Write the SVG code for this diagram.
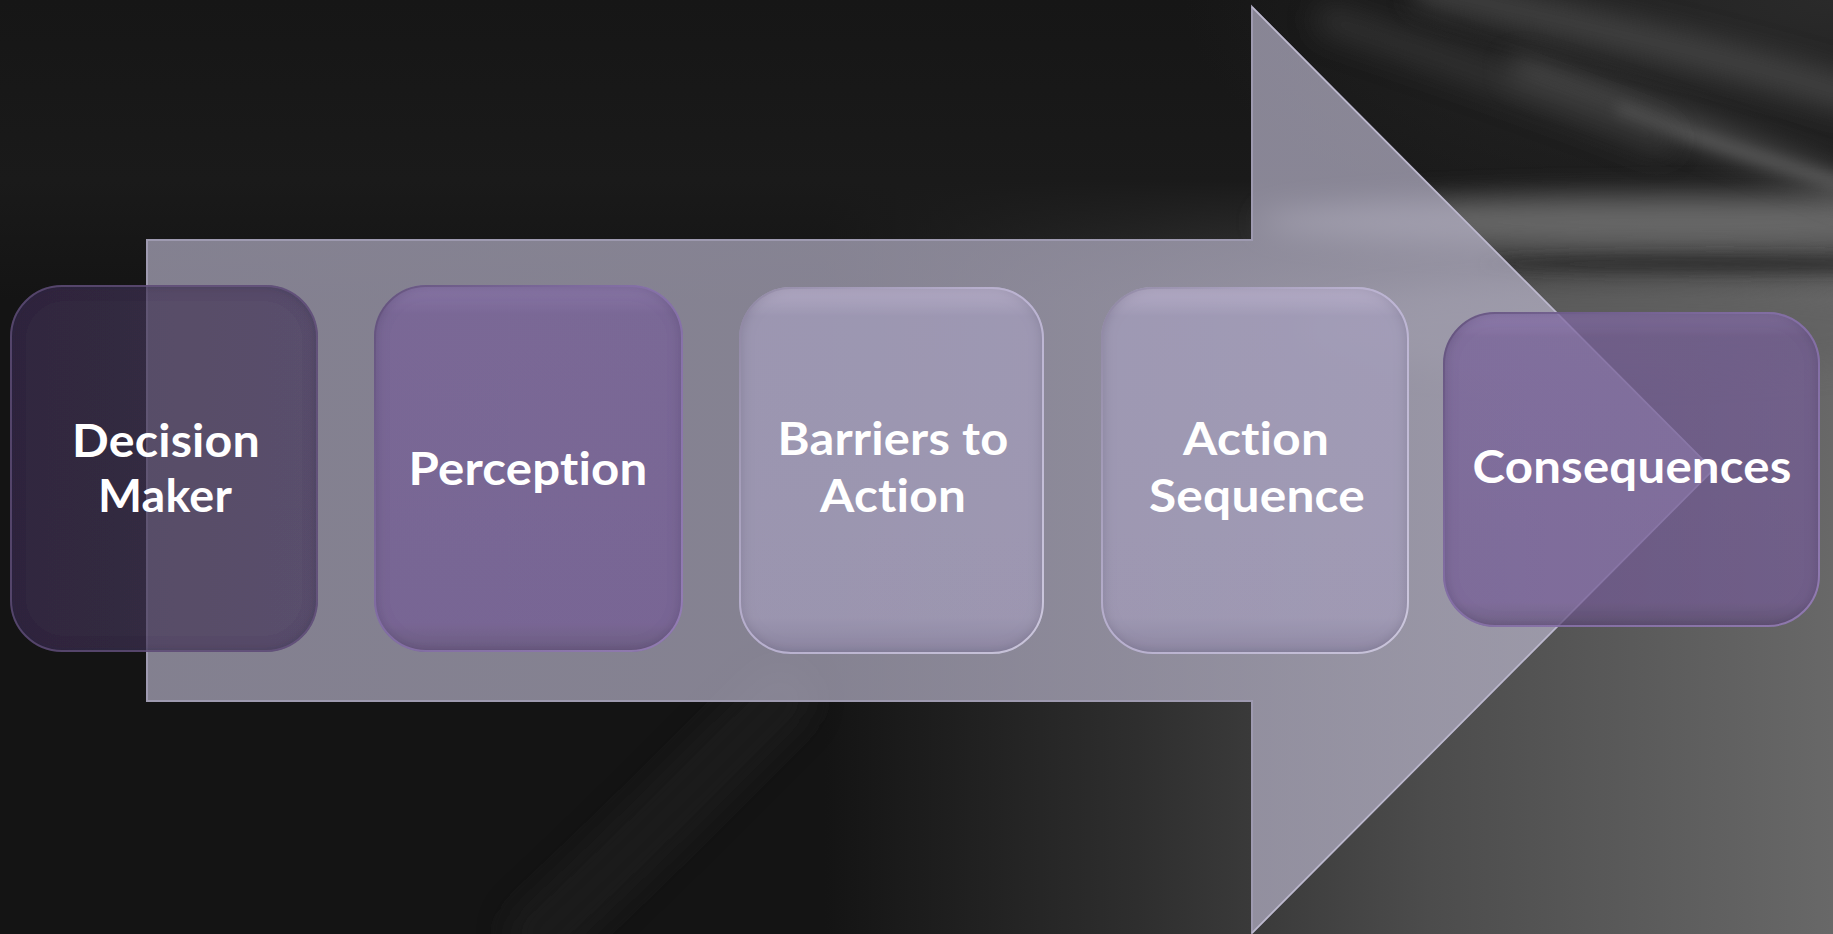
<svg xmlns="http://www.w3.org/2000/svg" width="1833" height="934" viewBox="0 0 1833 934">
  <defs>
    <style>
      .lbl { font-family: "Lato", "Open Sans", "Liberation Sans", sans-serif; font-weight: 700; font-size: 46px; fill: #ffffff; text-anchor: middle; font-variant-ligatures: none; font-feature-settings: "liga" 0, "clig" 0; letter-spacing: 0.2px; }
      .box { filter: url(#inset); }
      .edge { fill: none; stroke-width: 2; }
      .wisp { fill: none; stroke-linecap: round; }
    </style>
    <!-- background shading -->
    <linearGradient id="bgH" x1="0" y1="0" x2="1833" y2="0" gradientUnits="userSpaceOnUse">
      <stop offset="0" stop-color="#141414"/>
      <stop offset="0.45" stop-color="#141414"/>
      <stop offset="0.62" stop-color="#2e2e2e"/>
      <stop offset="0.78" stop-color="#4c4c4c"/>
      <stop offset="1" stop-color="#686868"/>
    </linearGradient>
    <linearGradient id="bgTop" x1="0" y1="0" x2="0" y2="300" gradientUnits="userSpaceOnUse">
      <stop offset="0" stop-color="#161616"/>
      <stop offset="0.6" stop-color="#1a1a1a"/>
      <stop offset="1" stop-color="#1a1a1a" stop-opacity="0"/>
    </linearGradient>
    <radialGradient id="bgTR" cx="1833" cy="0" r="650" gradientUnits="userSpaceOnUse" gradientTransform="translate(1833 0) scale(1 0.4) translate(-1833 0)">
      <stop offset="0" stop-color="#2a2a2a"/>
      <stop offset="1" stop-color="#2a2a2a" stop-opacity="0"/>
    </radialGradient>
    <filter id="soft" x="-30%" y="-100%" width="160%" height="300%">
      <feGaussianBlur stdDeviation="14"/>
    </filter>
    <filter id="softer" x="-30%" y="-100%" width="160%" height="300%">
      <feGaussianBlur stdDeviation="7"/>
    </filter>
    <!-- arrow -->
    <linearGradient id="arrowFill" x1="0" y1="0" x2="1" y2="0">
      <stop offset="0" stop-color="#b2aec4"/>
      <stop offset="1" stop-color="#bab6cc"/>
    </linearGradient>
    <!-- box fills -->
    <linearGradient id="gDark" x1="0" y1="0" x2="1" y2="0">
      <stop offset="0" stop-color="#3e3052"/>
      <stop offset="1" stop-color="#46365a"/>
    </linearGradient>
    <linearGradient id="gMid" x1="0" y1="0" x2="0" y2="1">
      <stop offset="0" stop-color="#8a72ae"/>
      <stop offset="0.08" stop-color="#765e98"/>
      <stop offset="0.92" stop-color="#745c95"/>
      <stop offset="1" stop-color="#64507e"/>
    </linearGradient>
    <linearGradient id="gLight" x1="0" y1="0" x2="0" y2="1">
      <stop offset="0" stop-color="#c4bad9"/>
      <stop offset="0.08" stop-color="#a59ebd"/>
      <stop offset="0.9" stop-color="#a39cba"/>
      <stop offset="1" stop-color="#8e86a6"/>
    </linearGradient>
    <linearGradient id="rimLight" x1="0" y1="0" x2="1" y2="1">
      <stop offset="0" stop-color="#8c84a0"/>
      <stop offset="0.5" stop-color="#c8c0e0"/>
      <stop offset="1" stop-color="#e0dcf0"/>
    </linearGradient>
    <linearGradient id="rimMid" x1="0" y1="0" x2="1" y2="1">
      <stop offset="0" stop-color="#5c4c74"/>
      <stop offset="0.5" stop-color="#8e78b4"/>
      <stop offset="1" stop-color="#a48cc8"/>
    </linearGradient>
    <!-- soft inner shadow for the bevelled boxes -->
    <filter id="inset" x="-5%" y="-5%" width="110%" height="110%">
      <feGaussianBlur in="SourceAlpha" stdDeviation="7" result="blur"/>
      <feComposite in="SourceAlpha" in2="blur" operator="arithmetic" k2="1" k3="-1" result="ring"/>
      <feFlood flood-color="#1e1628" flood-opacity="0.55"/>
      <feComposite in2="ring" operator="in" result="shade"/>
      <feMerge>
        <feMergeNode in="SourceGraphic"/>
        <feMergeNode in="shade"/>
      </feMerge>
    </filter>
  </defs>

  <!-- backdrop -->
  <g id="backdrop">
    <rect x="0" y="0" width="1833" height="934" fill="url(#bgH)"/>
    <rect x="0" y="0" width="1833" height="300" fill="url(#bgTop)"/>
    <rect x="1100" y="0" width="733" height="300" fill="url(#bgTR)"/>
    <!-- pale band behind the arrow head -->
    <ellipse cx="1680" cy="222" rx="420" ry="26" fill="#767676" opacity="0.8" filter="url(#soft)"/>
    <ellipse cx="1720" cy="264" rx="240" ry="9" fill="#262626" opacity="0.75" filter="url(#softer)"/>
    <ellipse cx="1620" cy="330" rx="320" ry="45" fill="#606060" opacity="0.6" filter="url(#soft)"/>
    <!-- wisps -->
    <path class="wisp" d="M1430 -10 C1580 25 1720 55 1850 95" stroke="#505050" stroke-width="34" opacity="0.7" filter="url(#soft)"/>
    <path class="wisp" d="M1520 70 C1640 110 1750 150 1850 190" stroke="#7a7a7a" stroke-width="22" opacity="0.55" filter="url(#soft)"/>
    <path class="wisp" d="M1620 110 C1700 140 1780 165 1850 185" stroke="#9a9a9a" stroke-width="8" opacity="0.4" filter="url(#softer)"/>
    <path class="wisp" d="M1330 20 C1450 60 1560 100 1660 140" stroke="#3c3c3c" stroke-width="30" opacity="0.6" filter="url(#soft)"/>
    <path class="wisp" d="M540 934 C620 860 700 780 780 700" stroke="#222222" stroke-width="70" opacity="0.5" filter="url(#soft)"/>
  </g>

  <!-- connector: the large block arrow -->
  <g id="connectors">
    <path d="M147 240 H1252 V7 L1713 470 L1252 933 V701 H147 Z" fill="url(#arrowFill)" fill-opacity="0.7" stroke="#9e9ab0" stroke-width="2" stroke-linejoin="miter"/>
    <path d="M1252 7 L1713 470 L1252 933" fill="none" stroke="#c4c0d4" stroke-width="1.5" opacity="0.8"/>
  </g>

  <g id="node-decision-maker">
    <rect class="box" x="10" y="285" width="308" height="367" rx="52" fill="url(#gDark)" fill-opacity="0.68"/>
    <rect class="edge" x="11" y="286" width="306" height="365" rx="51" stroke="#6e5c8a" opacity="0.6"/>
    <text class="lbl" x="166" y="457" textLength="188" lengthAdjust="spacingAndGlyphs">Decision</text>
    <text class="lbl" x="165" y="512" textLength="134" lengthAdjust="spacingAndGlyphs">Maker</text>
  </g>

  <g id="node-perception">
    <rect class="box" x="374" y="285" width="309" height="367" rx="52" fill="url(#gMid)" fill-opacity="0.72"/>
    <rect class="edge" x="375" y="286" width="307" height="365" rx="51" stroke="url(#rimMid)" opacity="0.7"/>
    <text class="lbl" x="528" y="485" textLength="239" lengthAdjust="spacingAndGlyphs">Perception</text>
  </g>

  <g id="node-barriers">
    <rect class="box" x="739" y="287" width="305" height="367" rx="52" fill="url(#gLight)" fill-opacity="0.72"/>
    <rect class="edge" x="740" y="288" width="303" height="365" rx="51" stroke="url(#rimLight)" opacity="0.75"/>
    <text class="lbl" x="893" y="455" textLength="231" lengthAdjust="spacingAndGlyphs">Barriers to</text>
    <text class="lbl" x="893" y="512" textLength="146" lengthAdjust="spacingAndGlyphs">Action</text>
  </g>

  <g id="node-action-sequence">
    <rect class="box" x="1101" y="287" width="308" height="367" rx="52" fill="url(#gLight)" fill-opacity="0.72"/>
    <rect class="edge" x="1102" y="288" width="306" height="365" rx="51" stroke="url(#rimLight)" opacity="0.75"/>
    <text class="lbl" x="1256" y="455" textLength="146" lengthAdjust="spacingAndGlyphs">Action</text>
    <text class="lbl" x="1257" y="512" textLength="216" lengthAdjust="spacingAndGlyphs">Sequence</text>
  </g>

  <g id="node-consequences">
    <rect class="box" x="1443" y="312" width="377" height="315" rx="52" fill="url(#gMid)" fill-opacity="0.72"/>
    <rect class="edge" x="1444" y="313" width="375" height="313" rx="51" stroke="url(#rimMid)" opacity="0.7"/>
    <text class="lbl" x="1632" y="483" textLength="319" lengthAdjust="spacingAndGlyphs">Consequences</text>
  </g>
</svg>
